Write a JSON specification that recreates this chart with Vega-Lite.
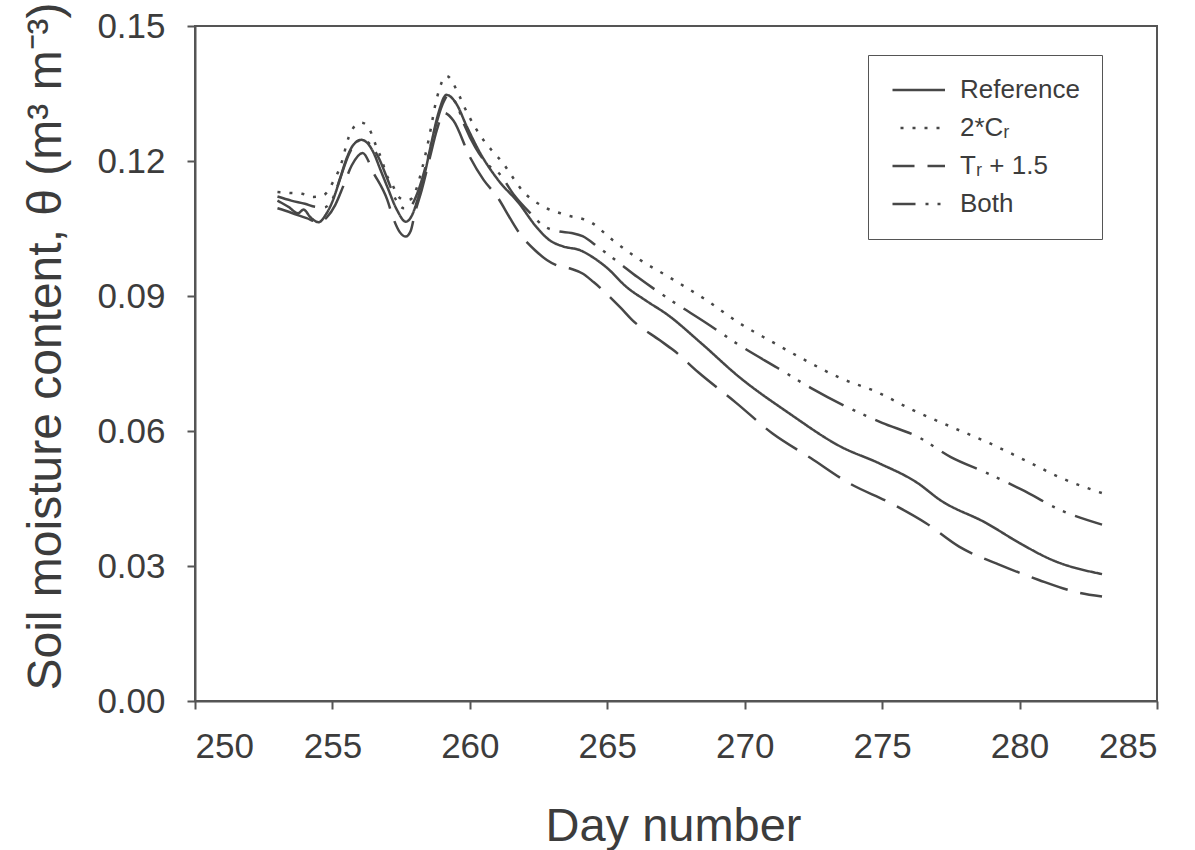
{
  "$schema": "https://vega.github.io/schema/vega-lite/v6.json",
  "width": 962,
  "height": 675,
  "autosize": {"type": "none"},
  "padding": {"left": 195, "top": 26, "right": 38, "bottom": 149},
  "background": "white",
  "config": {
    "font": "Liberation Sans",
    "view": {"stroke": "#555", "strokeWidth": 2},
    "axis": {
      "grid": false,
      "domainColor": "#555",
      "domainWidth": 2,
      "tickColor": "#555",
      "tickWidth": 2,
      "tickSize": 8,
      "labelColor": "#3c3c3c",
      "titleColor": "#3c3c3c",
      "labelFont": "Liberation Sans",
      "titleFont": "Liberation Sans",
      "titleFontWeight": "normal"
    }
  },
  "data": {
    "values": [
      {"series": "Reference", "day": 253.0, "theta": 0.1112},
      {"series": "Reference", "day": 253.4, "theta": 0.1098},
      {"series": "Reference", "day": 253.75, "theta": 0.1084},
      {"series": "Reference", "day": 253.95, "theta": 0.1092},
      {"series": "Reference", "day": 254.2, "theta": 0.1075},
      {"series": "Reference", "day": 254.5, "theta": 0.1064},
      {"series": "Reference", "day": 254.75, "theta": 0.108},
      {"series": "Reference", "day": 255.0, "theta": 0.111},
      {"series": "Reference", "day": 255.25, "theta": 0.1155},
      {"series": "Reference", "day": 255.5, "theta": 0.1203},
      {"series": "Reference", "day": 255.75, "theta": 0.1235},
      {"series": "Reference", "day": 256.05, "theta": 0.1247},
      {"series": "Reference", "day": 256.3, "theta": 0.1238},
      {"series": "Reference", "day": 256.5, "theta": 0.1218},
      {"series": "Reference", "day": 256.75, "theta": 0.118},
      {"series": "Reference", "day": 257.0, "theta": 0.1142},
      {"series": "Reference", "day": 257.35, "theta": 0.1091},
      {"series": "Reference", "day": 257.67, "theta": 0.1065},
      {"series": "Reference", "day": 257.9, "theta": 0.108},
      {"series": "Reference", "day": 258.1, "theta": 0.1115},
      {"series": "Reference", "day": 258.35, "theta": 0.117},
      {"series": "Reference", "day": 258.6, "theta": 0.124},
      {"series": "Reference", "day": 258.85, "theta": 0.1305},
      {"series": "Reference", "day": 259.15, "theta": 0.1347},
      {"series": "Reference", "day": 259.5, "theta": 0.1328},
      {"series": "Reference", "day": 259.9, "theta": 0.1275},
      {"series": "Reference", "day": 260.4, "theta": 0.1215},
      {"series": "Reference", "day": 261.0, "theta": 0.116},
      {"series": "Reference", "day": 261.8, "theta": 0.1105},
      {"series": "Reference", "day": 262.4, "theta": 0.1055},
      {"series": "Reference", "day": 262.9, "theta": 0.1024},
      {"series": "Reference", "day": 263.4, "theta": 0.101},
      {"series": "Reference", "day": 264.0, "theta": 0.1002},
      {"series": "Reference", "day": 264.5, "theta": 0.0985},
      {"series": "Reference", "day": 265.0, "theta": 0.0962},
      {"series": "Reference", "day": 265.7, "theta": 0.092},
      {"series": "Reference", "day": 266.4, "theta": 0.089},
      {"series": "Reference", "day": 267.2, "theta": 0.0858},
      {"series": "Reference", "day": 268.4, "theta": 0.0796},
      {"series": "Reference", "day": 269.8, "theta": 0.072},
      {"series": "Reference", "day": 271.6, "theta": 0.064},
      {"series": "Reference", "day": 273.5, "theta": 0.0565},
      {"series": "Reference", "day": 274.9, "theta": 0.0528},
      {"series": "Reference", "day": 276.3, "theta": 0.0484},
      {"series": "Reference", "day": 277.1, "theta": 0.0447},
      {"series": "Reference", "day": 278.8, "theta": 0.0395},
      {"series": "Reference", "day": 280.0, "theta": 0.0351},
      {"series": "Reference", "day": 281.2, "theta": 0.0313},
      {"series": "Reference", "day": 283.0, "theta": 0.0282},

      {"series": "2*Cᵣ", "day": 253.0, "theta": 0.1131},
      {"series": "2*Cᵣ", "day": 253.45, "theta": 0.1129},
      {"series": "2*Cᵣ", "day": 253.9, "theta": 0.1127},
      {"series": "2*Cᵣ", "day": 254.3, "theta": 0.112},
      {"series": "2*Cᵣ", "day": 254.7, "theta": 0.1125},
      {"series": "2*Cᵣ", "day": 255.0, "theta": 0.1151},
      {"series": "2*Cᵣ", "day": 255.3, "theta": 0.119},
      {"series": "2*Cᵣ", "day": 255.6, "theta": 0.1254},
      {"series": "2*Cᵣ", "day": 255.85, "theta": 0.128},
      {"series": "2*Cᵣ", "day": 256.05, "theta": 0.1285},
      {"series": "2*Cᵣ", "day": 256.25, "theta": 0.128},
      {"series": "2*Cᵣ", "day": 256.6, "theta": 0.1232},
      {"series": "2*Cᵣ", "day": 256.8, "theta": 0.1202},
      {"series": "2*Cᵣ", "day": 256.97, "theta": 0.1169},
      {"series": "2*Cᵣ", "day": 257.16, "theta": 0.115},
      {"series": "2*Cᵣ", "day": 257.4, "theta": 0.1121},
      {"series": "2*Cᵣ", "day": 257.65, "theta": 0.1113},
      {"series": "2*Cᵣ", "day": 257.85, "theta": 0.1115},
      {"series": "2*Cᵣ", "day": 258.06, "theta": 0.1139},
      {"series": "2*Cᵣ", "day": 258.25, "theta": 0.118},
      {"series": "2*Cᵣ", "day": 258.5, "theta": 0.1247},
      {"series": "2*Cᵣ", "day": 258.8, "theta": 0.134},
      {"series": "2*Cᵣ", "day": 259.15, "theta": 0.1389},
      {"series": "2*Cᵣ", "day": 259.6, "theta": 0.1347},
      {"series": "2*Cᵣ", "day": 259.8, "theta": 0.132},
      {"series": "2*Cᵣ", "day": 260.25, "theta": 0.1269},
      {"series": "2*Cᵣ", "day": 260.55, "theta": 0.1242},
      {"series": "2*Cᵣ", "day": 260.85, "theta": 0.122},
      {"series": "2*Cᵣ", "day": 261.2, "theta": 0.1196},
      {"series": "2*Cᵣ", "day": 261.5, "theta": 0.1169},
      {"series": "2*Cᵣ", "day": 261.9, "theta": 0.1135},
      {"series": "2*Cᵣ", "day": 262.7, "theta": 0.1098},
      {"series": "2*Cᵣ", "day": 263.5, "theta": 0.108},
      {"series": "2*Cᵣ", "day": 264.4, "theta": 0.1064},
      {"series": "2*Cᵣ", "day": 265.2, "theta": 0.1024},
      {"series": "2*Cᵣ", "day": 266.1, "theta": 0.0984},
      {"series": "2*Cᵣ", "day": 267.3, "theta": 0.094},
      {"series": "2*Cᵣ", "day": 268.6, "theta": 0.0891},
      {"series": "2*Cᵣ", "day": 269.8, "theta": 0.084},
      {"series": "2*Cᵣ", "day": 271.0, "theta": 0.0798},
      {"series": "2*Cᵣ", "day": 272.3, "theta": 0.0754},
      {"series": "2*Cᵣ", "day": 273.5, "theta": 0.0717},
      {"series": "2*Cᵣ", "day": 274.8, "theta": 0.0687},
      {"series": "2*Cᵣ", "day": 276.1, "theta": 0.0647},
      {"series": "2*Cᵣ", "day": 277.6, "theta": 0.0607},
      {"series": "2*Cᵣ", "day": 278.9, "theta": 0.0573},
      {"series": "2*Cᵣ", "day": 280.3, "theta": 0.0532},
      {"series": "2*Cᵣ", "day": 281.5, "theta": 0.0496},
      {"series": "2*Cᵣ", "day": 283.0, "theta": 0.0462},

      {"series": "Tᵣ + 1.5", "day": 253.0, "theta": 0.1095},
      {"series": "Tᵣ + 1.5", "day": 253.5, "theta": 0.1085},
      {"series": "Tᵣ + 1.5", "day": 254.06, "theta": 0.1073},
      {"series": "Tᵣ + 1.5", "day": 254.5, "theta": 0.1064},
      {"series": "Tᵣ + 1.5", "day": 254.8, "theta": 0.1075},
      {"series": "Tᵣ + 1.5", "day": 255.1, "theta": 0.1102},
      {"series": "Tᵣ + 1.5", "day": 255.4, "theta": 0.1145},
      {"series": "Tᵣ + 1.5", "day": 255.7, "theta": 0.119},
      {"series": "Tᵣ + 1.5", "day": 256.1, "theta": 0.1218},
      {"series": "Tᵣ + 1.5", "day": 256.5, "theta": 0.1173},
      {"series": "Tᵣ + 1.5", "day": 257.0, "theta": 0.1113},
      {"series": "Tᵣ + 1.5", "day": 257.2, "theta": 0.1075},
      {"series": "Tᵣ + 1.5", "day": 257.45, "theta": 0.1042},
      {"series": "Tᵣ + 1.5", "day": 257.67, "theta": 0.1032},
      {"series": "Tᵣ + 1.5", "day": 257.85, "theta": 0.1045},
      {"series": "Tᵣ + 1.5", "day": 258.0, "theta": 0.1084},
      {"series": "Tᵣ + 1.5", "day": 258.25, "theta": 0.1136},
      {"series": "Tᵣ + 1.5", "day": 258.55, "theta": 0.1209},
      {"series": "Tᵣ + 1.5", "day": 258.8, "theta": 0.1269},
      {"series": "Tᵣ + 1.5", "day": 259.05, "theta": 0.1307},
      {"series": "Tᵣ + 1.5", "day": 259.4, "theta": 0.129},
      {"series": "Tᵣ + 1.5", "day": 260.0, "theta": 0.1209},
      {"series": "Tᵣ + 1.5", "day": 260.5, "theta": 0.1158},
      {"series": "Tᵣ + 1.5", "day": 261.0, "theta": 0.112},
      {"series": "Tᵣ + 1.5", "day": 261.5, "theta": 0.1069},
      {"series": "Tᵣ + 1.5", "day": 261.8, "theta": 0.104},
      {"series": "Tᵣ + 1.5", "day": 262.4, "theta": 0.1},
      {"series": "Tᵣ + 1.5", "day": 262.8, "theta": 0.098},
      {"series": "Tᵣ + 1.5", "day": 263.2, "theta": 0.0967},
      {"series": "Tᵣ + 1.5", "day": 263.7, "theta": 0.096},
      {"series": "Tᵣ + 1.5", "day": 264.1, "theta": 0.095},
      {"series": "Tᵣ + 1.5", "day": 264.5, "theta": 0.0931},
      {"series": "Tᵣ + 1.5", "day": 265.5, "theta": 0.0873},
      {"series": "Tᵣ + 1.5", "day": 265.9, "theta": 0.0847},
      {"series": "Tᵣ + 1.5", "day": 266.9, "theta": 0.0802},
      {"series": "Tᵣ + 1.5", "day": 267.4, "theta": 0.078},
      {"series": "Tᵣ + 1.5", "day": 268.3, "theta": 0.0731},
      {"series": "Tᵣ + 1.5", "day": 269.7, "theta": 0.0662},
      {"series": "Tᵣ + 1.5", "day": 271.0, "theta": 0.0595},
      {"series": "Tᵣ + 1.5", "day": 272.4, "theta": 0.054},
      {"series": "Tᵣ + 1.5", "day": 273.8, "theta": 0.0484},
      {"series": "Tᵣ + 1.5", "day": 275.3, "theta": 0.044},
      {"series": "Tᵣ + 1.5", "day": 276.6, "theta": 0.0395},
      {"series": "Tᵣ + 1.5", "day": 277.8, "theta": 0.0343},
      {"series": "Tᵣ + 1.5", "day": 279.3, "theta": 0.0302},
      {"series": "Tᵣ + 1.5", "day": 280.7, "theta": 0.0269},
      {"series": "Tᵣ + 1.5", "day": 282.2, "theta": 0.024},
      {"series": "Tᵣ + 1.5", "day": 283.0, "theta": 0.0232},

      {"series": "Both", "day": 253.0, "theta": 0.1121},
      {"series": "Both", "day": 253.5, "theta": 0.1112},
      {"series": "Both", "day": 254.0, "theta": 0.1105},
      {"series": "Both", "day": 254.4, "theta": 0.1098},
      {"series": "Both", "day": 254.7, "theta": 0.1097},
      {"series": "Both", "day": 255.0, "theta": 0.1115},
      {"series": "Both", "day": 255.3, "theta": 0.1165},
      {"series": "Both", "day": 255.6, "theta": 0.1215},
      {"series": "Both", "day": 255.85, "theta": 0.124},
      {"series": "Both", "day": 256.1, "theta": 0.1248},
      {"series": "Both", "day": 256.4, "theta": 0.1235},
      {"series": "Both", "day": 256.7, "theta": 0.1205},
      {"series": "Both", "day": 257.0, "theta": 0.116},
      {"series": "Both", "day": 257.3, "theta": 0.1115},
      {"series": "Both", "day": 257.6, "theta": 0.1095},
      {"series": "Both", "day": 257.8, "theta": 0.1097},
      {"series": "Both", "day": 258.1, "theta": 0.113},
      {"series": "Both", "day": 258.4, "theta": 0.119},
      {"series": "Both", "day": 258.7, "theta": 0.1265},
      {"series": "Both", "day": 259.0, "theta": 0.1325},
      {"series": "Both", "day": 259.2, "theta": 0.1345},
      {"series": "Both", "day": 259.5, "theta": 0.1328},
      {"series": "Both", "day": 259.8, "theta": 0.128},
      {"series": "Both", "day": 260.2, "theta": 0.123},
      {"series": "Both", "day": 260.6, "theta": 0.1195},
      {"series": "Both", "day": 261.1, "theta": 0.117},
      {"series": "Both", "day": 261.6, "theta": 0.1125},
      {"series": "Both", "day": 262.2, "theta": 0.1084},
      {"series": "Both", "day": 262.7, "theta": 0.1055},
      {"series": "Both", "day": 263.2, "theta": 0.1044},
      {"series": "Both", "day": 263.7, "theta": 0.104},
      {"series": "Both", "day": 264.1, "theta": 0.1033},
      {"series": "Both", "day": 264.7, "theta": 0.1007},
      {"series": "Both", "day": 265.4, "theta": 0.0975},
      {"series": "Both", "day": 266.1, "theta": 0.0942},
      {"series": "Both", "day": 267.3, "theta": 0.0891},
      {"series": "Both", "day": 268.6, "theta": 0.084},
      {"series": "Both", "day": 269.9, "theta": 0.0787},
      {"series": "Both", "day": 271.2, "theta": 0.074},
      {"series": "Both", "day": 272.4, "theta": 0.0696},
      {"series": "Both", "day": 273.7, "theta": 0.0654},
      {"series": "Both", "day": 275.0, "theta": 0.0618},
      {"series": "Both", "day": 276.3, "theta": 0.0587},
      {"series": "Both", "day": 277.5, "theta": 0.0542},
      {"series": "Both", "day": 278.8, "theta": 0.0507},
      {"series": "Both", "day": 280.1, "theta": 0.0469},
      {"series": "Both", "day": 281.5, "theta": 0.0424},
      {"series": "Both", "day": 283.0, "theta": 0.0392}
    ]
  },
  "mark": {"type": "line", "interpolate": "monotone", "strokeWidth": 2.5, "color": "#474747", "strokeCap": "butt"},
  "encoding": {
    "x": {
      "field": "day",
      "type": "quantitative",
      "scale": {"domain": [250, 285], "nice": false, "zero": false},
      "axis": {
        "values": [250, 255, 260, 265, 270, 275, 280, 285],
        "format": "d",
        "labelFontSize": 35,
        "labelPadding": 20,
        "title": "Day number",
        "titleFontSize": 47,
        "titleBaseline": "alphabetic",
        "titleY": 139,
        "titleX": 478
      }
    },
    "y": {
      "field": "theta",
      "type": "quantitative",
      "scale": {"domain": [0, 0.15], "nice": false},
      "axis": {
        "values": [0, 0.03, 0.06, 0.09, 0.12, 0.15],
        "format": ".2f",
        "labelFontSize": 35,
        "labelPadding": 22,
        "title": "Soil moisture content, θ  (m³ m⁻³)",
        "titleFontSize": 48,
        "titleAngle": 270,
        "titleAlign": "center",
        "titleBaseline": "middle",
        "titleX": -149,
        "titleY": 320
      }
    },
    "strokeDash": {
      "field": "series",
      "type": "nominal",
      "scale": {
        "domain": ["Reference", "2*Cᵣ", "Tᵣ + 1.5", "Both"],
        "range": [[1, 0], [3, 9], [38, 13], [39, 10, 3, 9, 3, 10]]
      },
      "legend": {
        "title": null,
        "orient": "none",
        "legendX": 673,
        "legendY": 29,
        "padding": 22,
        "strokeColor": "#555",
        "fillColor": "white",
        "symbolType": "M-1,0H4",
        "symbolSize": 441,
        "symbolStrokeWidth": 2.5,
        "symbolStrokeColor": "#474747",
        "symbolDashOffset": 16,
        "labelFontSize": 26,
        "labelColor": "#3c3c3c",
        "labelOffset": 44,
        "rowPadding": 12,
        "labelLimit": 300
      }
    }
  }
}
